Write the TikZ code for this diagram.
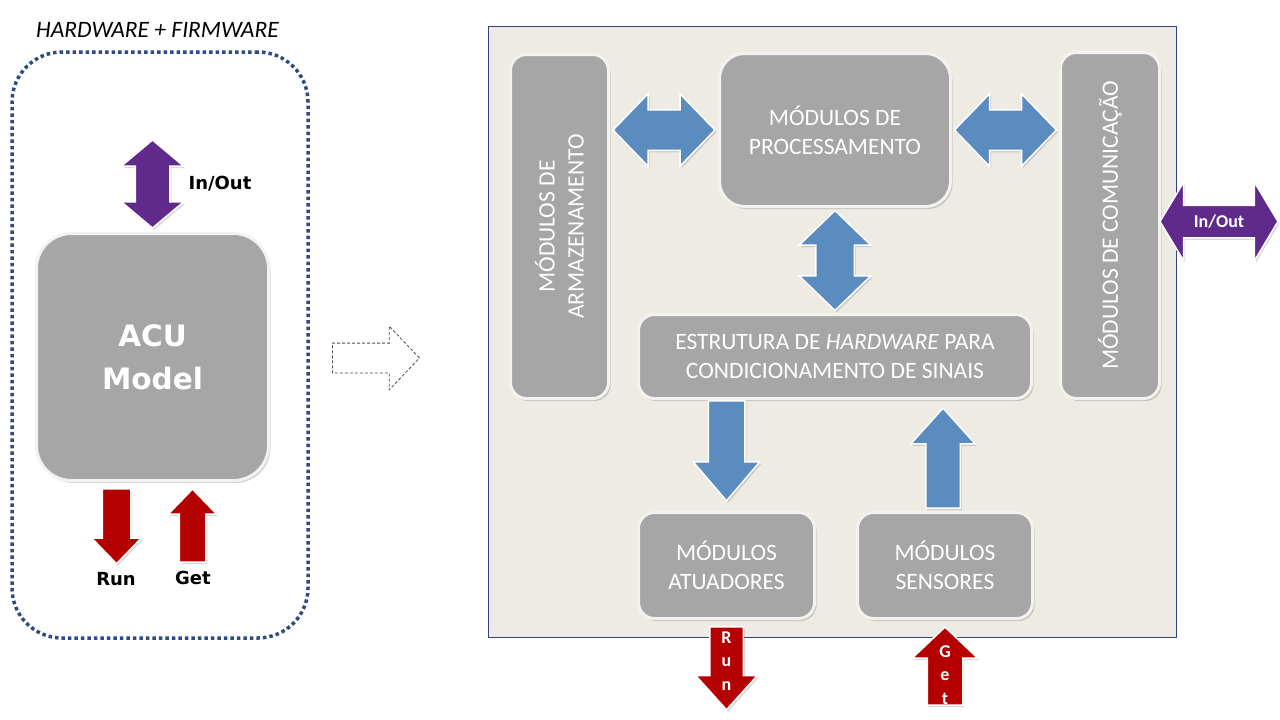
\documentclass[tikz,border=0pt]{standalone}
\usepackage{fontspec}
\setmainfont{Carlito}
\newfontfamily\verdana{DejaVu Sans}
\usetikzlibrary{calc,shapes.arrows,shadows}

\definecolor{panelfill}{HTML}{EEEAE4}
\definecolor{panelline}{HTML}{34437A}
\definecolor{modgray}{HTML}{A6A6A6}
\definecolor{rim}{HTML}{F4F2EE}
\definecolor{flow}{HTML}{5B8CBF}
\definecolor{io}{HTML}{5F2A8C}
\definecolor{sig}{HTML}{B40000}
\definecolor{dotblue}{HTML}{2D4C84}

\newcommand{\modfont}{\fontsize{23.5}{29}\selectfont}
\newcommand{\acufont}{\verdana\bfseries\fontsize{29.5}{43}\selectfont}
\newcommand{\tagfont}{\verdana\bfseries\fontsize{18}{22}\selectfont}
\newcommand{\lettfont}{\bfseries\fontsize{18}{23.5}\selectfont}

\begin{document}
\begin{tikzpicture}[x=1pt, y=-1pt,
    module/.style={rectangle, rounded corners=16pt, fill=modgray, draw=rim, line width=3pt,
      inner sep=0pt, drop shadow={shadow xshift=2pt, shadow yshift=-2.5pt, opacity=0.35}},
    modtext/.style={text=white, align=center, font=\modfont},
    blockarrow/.style={draw=white, line width=1.5pt,
      drop shadow={shadow xshift=1.5pt, shadow yshift=-2pt, opacity=0.3}},
    across/.style={inner xsep=0pt, inner ysep=#1},
    upright/.style={inner ysep=0pt, inner xsep=#1},
    flowtwo/.style={blockarrow, double arrow, fill=flow},
    flowone/.style={blockarrow, single arrow, fill=flow},
    iotwo/.style={blockarrow, double arrow, fill=io},
    sigone/.style={blockarrow, single arrow, fill=sig},
    tag/.style={font=\tagfont}]
  \useasboundingbox (0,0) rectangle (1280,720);

  % left side: the ACU as a black box
  \node[draw=dotblue, line width=3.5pt, dash pattern=on 3.5pt off 3pt, rounded corners=50pt,
    minimum width=296pt, minimum height=586pt] (hwframe) at (160,345) {};
  \node[font=\itshape\modfont] (hwlabel) at (157.5,30) {HARDWARE + FIRMWARE};

  \node[module, rounded corners=35pt, minimum width=232pt, minimum height=247pt] (acu) at (152.5,357) {};
  \node[text=white, align=center, font=\acufont] (acutext) at (acu) {ACU\\Model};

  \node[iotwo, upright=16.5pt, shape border rotate=90, minimum height=88pt, minimum width=61pt,
    double arrow head extend=14pt, double arrow tip angle=100] (ioleft) at ($(acu.north)+(0,-48)$) {};
  \node[tag] (iolefttext) at (220,184) {In/Out};

  \node[sigone, upright=13.5pt, shape border rotate=270, minimum height=75pt, minimum width=48pt,
    single arrow head extend=10.5pt, single arrow tip angle=88, anchor=tail] (runleft) at ($(acu.south)+(-36,6)$) {};
  \node[sigone, upright=12.5pt, shape border rotate=90, minimum height=73pt, minimum width=47pt,
    single arrow head extend=11pt, single arrow tip angle=88, anchor=tip] (getleft) at ($(acu.south)+(40,6)$) {};
  \node[tag] (runlefttext) at (116,579) {Run};
  \node[tag] (getlefttext) at (193,578) {Get};

  % hollow arrow between the two views
  \node[single arrow, draw=black!70, densely dashed, fill=white, line width=0.8pt, across=14.5pt,
    minimum height=87pt, minimum width=63pt, single arrow head extend=17pt,
    single arrow tip angle=93, anchor=tip] (goesto) at (420,358) {};

  % right side: the ACU opened up
  \node[draw=panelline, fill=panelfill, line width=1pt, inner sep=0pt,
    minimum width=688pt, minimum height=611pt,
    drop shadow={shadow xshift=1pt, shadow yshift=-1pt, opacity=0.2}] (panel) at (832,331.5) {};

  \node[module, minimum width=98pt, minimum height=344pt] (arm) at (559.5,226.5) {};
  \node[modtext, rotate=90] (armtext) at (arm) {MÓDULOS DE\\ARMAZENAMENTO};
  \node[module, rounded corners=25pt, minimum width=231pt, minimum height=153pt] (proc) at (835,130) {};
  \node[modtext] (proctext) at (proc) {MÓDULOS DE\\PROCESSAMENTO};
  \node[module, minimum width=99pt, minimum height=346pt] (comm) at (1110,225.5) {};
  \node[modtext, rotate=90] (commtext) at (comm) {MÓDULOS DE COMUNICAÇÃO};
  \node[module, minimum width=393pt, minimum height=84pt] (estr) at (835,356.5) {};
  \node[modtext] (estrtext) at (estr) {ESTRUTURA DE \textit{HARDWARE} PARA\\CONDICIONAMENTO DE SINAIS};
  \node[module, minimum width=176pt, minimum height=106pt] (act) at (726.5,565.5) {};
  \node[modtext] (acttext) at (act) {MÓDULOS\\ATUADORES};
  \node[module, minimum width=175pt, minimum height=106pt] (sen) at (945,565.5) {};
  \node[modtext] (sentext) at (sen) {MÓDULOS\\SENSORES};

  % internal data paths
  \node[flowtwo, across=19.5pt, minimum height=102pt, minimum width=71pt,
    double arrow head extend=16pt, double arrow tip angle=92]
    (armproc) at ($(arm.east |- proc.west)!0.5!(proc.west)$) {};
  \node[flowtwo, across=19.5pt, minimum height=102pt, minimum width=71pt,
    double arrow head extend=16pt, double arrow tip angle=92]
    (proccomm) at ($(proc.east)!0.5!(comm.west |- proc.east)$) {};
  \node[flowtwo, upright=18.5pt, shape border rotate=90, minimum height=100pt, minimum width=70pt,
    double arrow head extend=16.5pt, double arrow tip angle=92]
    (procestr) at ($(proc.south)!0.5!(estr.north)$) {};
  \node[flowone, upright=17.5pt, shape border rotate=270, minimum height=100pt, minimum width=65pt,
    single arrow head extend=15pt, single arrow tip angle=81, anchor=tip]
    (estract) at ($(act.north)+(0,-9)$) {};
  \node[flowone, upright=16.5pt, shape border rotate=90, minimum height=100pt, minimum width=63pt,
    single arrow head extend=15pt, single arrow tip angle=84, anchor=tip]
    (senestr) at ($(sen.north |- estr.south)+(-2,7)$) {};

  % outside world
  \node[iotwo, across=15.5pt, minimum height=118pt, minimum width=77pt,
    double arrow head extend=23pt, double arrow tip angle=118] (ioright) at ($(comm.east)+(58,-4)$) {};
  \node[font=\bfseries\fontsize{18}{22}\selectfont, text=white] (iorighttext) at (ioright) {In/Out};

  \node[sigone, upright=16pt, shape border rotate=270, minimum height=83pt, minimum width=60pt,
    single arrow head extend=14pt, single arrow tip angle=84, anchor=tail] (runright) at ($(act.south)+(0,6)$) {};
  \node[text=white, align=center, font=\lettfont] (runrighttext) at ($(runright.tail)+(0,35)$) {R\\u\\n};
  \node[sigone, upright=17pt, shape border rotate=90, minimum height=78pt, minimum width=64pt,
    single arrow head extend=15pt, single arrow tip angle=93, anchor=tip] (getright) at ($(sen.south)+(0,6)$) {};
  \node[text=white, align=center, font=\lettfont] (getrighttext) at ($(getright.tip)+(0,49)$) {G\\e\\t};
\end{tikzpicture}
\end{document}
